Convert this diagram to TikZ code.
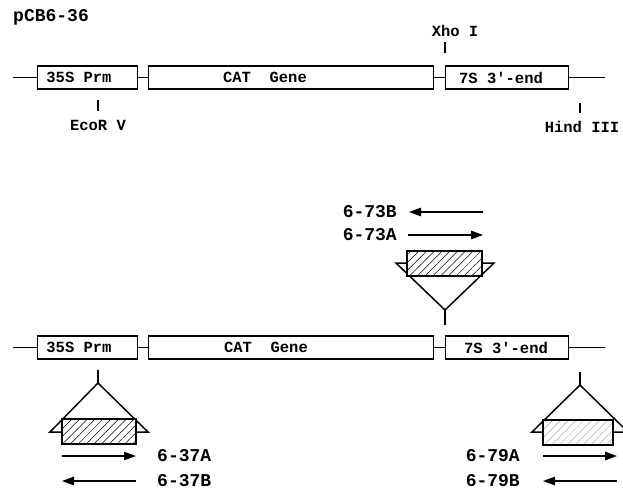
\documentclass[tikz,border=0pt]{standalone}
\usepackage{fontspec}
\setmonofont{Liberation Mono}
\usetikzlibrary{arrows.meta,patterns.meta}
\begin{document}
\begin{tikzpicture}[x=1pt,y=-1pt,
  seg/.style={draw, line width=1.2pt, minimum height=23pt, inner sep=0pt, anchor=west},
  lbl/.style={font=\fontsize{15.5}{17}\selectfont\ttfamily\bfseries, inner sep=0pt},
  big/.style={font=\fontsize{18}{20}\selectfont\ttfamily\bfseries, inner sep=0pt},
  wire/.style={line width=1.2pt},
  tick/.style={line width=1.2pt},
  ins/.style={line width=1.5pt, line join=miter},
  hatch/.style={draw, line width=1.1pt, preaction={fill=white}, pattern={Lines[angle=45,distance=5.5pt,line width=0.5pt]}, inner sep=0pt, minimum width=74pt, minimum height=25pt},
  lhatch/.style={hatch, pattern color=black!30},
  arr/.style={line width=1.2pt, -{Triangle[length=12pt,width=8.5pt]}}]
\clip (0,0) rectangle (623,491);
% ---------- top construct ----------
\node[big, anchor=west] (title) at (13,17.5) {pCB6-36};
\coordinate (a0) at (13,77.5);
\node[seg, minimum width=100pt] (a1) at (37,77.5) {};
\node[seg, minimum width=285pt] (a2) at (148,77.5) {};
\node[seg, minimum width=123pt] (a3) at (445,77.5) {};
\coordinate (a4) at (605,77.5);
\draw[wire] (a0) -- (a1.west) (a1.east) -- (a2.west) (a2.east) -- (a3.west) (a3.east) -- (a4);
\node[lbl] (a1t) at (79,77.5) {35S Prm};
\node[lbl] (a2t) at (265,77.5) {CAT\ \ Gene};
\node[lbl] (a3t) at (501,77.5) {7S 3'-end};
\node[lbl] (eco) at (98,125) {EcoR V};
\coordinate (ecot) at (98,100);
\draw[tick] (ecot) -- ++(0,11);
\node[lbl] (xho) at (455,31) {Xho I};
\coordinate (xhot) at (445,42);
\draw[tick] (xhot) -- ++(0,11);
\node[lbl] (hind) at (582,127) {Hind III};
\coordinate (hindt) at (580,103);
\draw[tick] (hindt) -- ++(0,10);
% ---------- bottom construct ----------
\coordinate (b0) at (13,347.5);
\node[seg, minimum width=100pt] (b1) at (37,347.5) {};
\node[seg, minimum width=285pt] (b2) at (148,347.5) {};
\node[seg, minimum width=123pt] (b3) at (445,347.5) {};
\coordinate (b4) at (605,347.5);
\draw[wire] (b0) -- (b1.west) (b1.east) -- (b2.west) (b2.east) -- (b3.west) (b3.east) -- (b4);
\node[lbl] (b1t) at (79,347.5) {35S Prm};
\node[lbl] (b2t) at (266,347.5) {CAT\ \ Gene};
\node[lbl] (b3t) at (506,347.5) {7S 3'-end};
% ---------- middle insertion (Xho I) ----------
\coordinate (mA) at (445,310);
\coordinate (mT) at (445,325);
\draw[tick] (mA) -- (mT);
\draw[ins] (396,263) -- (494,263) -- (mA) -- cycle;
\node[hatch, minimum width=75pt] (mh) at (444.5,263.5) {};
\node[big, anchor=east] (l73b) at (397,212) {6-73B};
\node[big, anchor=east] (l73a) at (397,235) {6-73A};
\coordinate (m73bs) at (483,212); \coordinate (m73be) at (409,212);
\coordinate (m73as) at (408,235); \coordinate (m73ae) at (483,235);
\draw[arr] (m73bs) -- (m73be);
\draw[arr] (m73as) -- (m73ae);
% ---------- left insertion (EcoR V) ----------
\coordinate (lT) at (98,370);
\coordinate (lA) at (98,383);
\draw[tick] (lT) -- (lA);
\draw[ins] (lA) -- (50,432) -- (148,432) -- cycle;
\node[hatch] (lh) at (99,431.5) {};
\node[big, anchor=west] (l37a) at (157,456) {6-37A};
\node[big, anchor=west] (l37b) at (157,481) {6-37B};
\coordinate (l37as) at (62,456); \coordinate (l37ae) at (136,456);
\coordinate (l37bs) at (136,481); \coordinate (l37be) at (62,481);
\draw[arr] (l37as) -- (l37ae);
\draw[arr] (l37bs) -- (l37be);
% ---------- right insertion (Hind III) ----------
\coordinate (rT) at (580,372);
\coordinate (rA) at (580,385);
\draw[tick] (rT) -- (rA);
\draw[ins] (rA) -- (532,432) -- (628,432) -- cycle;
\node[lhatch, minimum width=70pt] (rh) at (578,432.5) {};
\node[big, anchor=east] (l79a) at (520,456) {6-79A};
\node[big, anchor=east] (l79b) at (520,481) {6-79B};
\coordinate (r79as) at (543,456); \coordinate (r79ae) at (617,456);
\coordinate (r79bs) at (617,481); \coordinate (r79be) at (543,481);
\draw[arr] (r79as) -- (r79ae);
\draw[arr] (r79bs) -- (r79be);
\end{tikzpicture}
\end{document}
